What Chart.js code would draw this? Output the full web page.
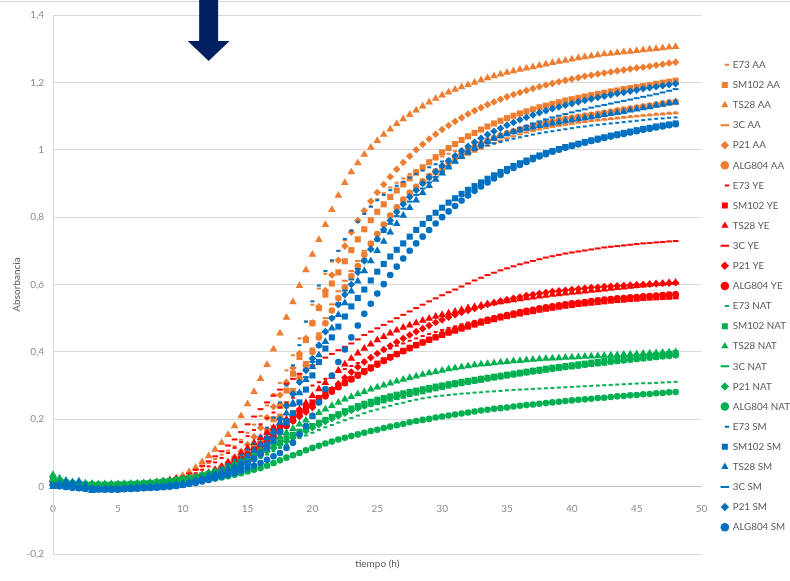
<!DOCTYPE html>
<html>
<head>
<meta charset="utf-8">
<script src="https://cdn.jsdelivr.net/npm/chart.js@4.4.1/dist/chart.umd.min.js"></script>
<style>
  html, body { margin: 0; padding: 0; background: #fff; }
  #wrap { width: 790px; height: 581px; }
</style>
</head>
<body>
<div id="wrap"><canvas id="growthChart" width="790" height="581"></canvas></div>
<script>
// sampling times (h)
var hours = [0,0.5,1,1.5,2,2.5,3,3.5,4,4.5,5,5.5,6,6.5,7,7.5,8,8.5,9,9.5,
  10,10.5,11,11.5,12,12.5,13,13.5,14,14.5,15,15.5,16,16.5,17,17.5,18,18.5,19,19.5,
  20,20.5,21,21.5,22,22.5,23,23.5,24,24.5,25,25.5,26,26.5,27,27.5,28,28.5,29,29.5,
  30,30.5,31,31.5,32,32.5,33,33.5,34,34.5,35,35.5,36,36.5,37,37.5,38,38.5,39,39.5,
  40,40.5,41,41.5,42,42.5,43,43.5,44,44.5,45,45.5,46,46.5,47,47.5,48];

var yTicks = [-0.2, 0, 0.2, 0.4, 0.6, 0.8, 1, 1.2, 1.4];
var arrowHour = 12;

// AA
var e73AA = [.008,.006,.005,.004,.004,.003,.003,.003,.003,.004,.004,.005,.006,.007,.008,.010,.012,.015,.019,.024,
  .030,.039,.049,.059,.070,.082,.095,.107,.120,.139,.160,.184,.210,.241,.275,.308,.345,.390,.440,.490,
  .540,.588,.632,.668,.700,.731,.760,.786,.810,.832,.853,.871,.888,.902,.915,.928,.940,.951,.962,.971,
  .980,.988,.996,1.003,1.010,1.017,1.023,1.029,1.035,1.040,1.045,1.049,1.053,1.057,1.061,1.065,1.068,1.071,1.074,1.077,
  1.080,1.083,1.085,1.088,1.090,1.092,1.094,1.096,1.098,1.100,1.101,1.103,1.105,1.107,1.108,1.110,1.111];
var sm102AA = [.004,.003,.003,.002,.002,.002,.002,.002,.002,.003,.003,.003,.004,.004,.005,.006,.007,.009,.011,.014,
  .017,.021,.025,.030,.036,.043,.051,.060,.071,.084,.099,.117,.139,.165,.200,.240,.285,.335,.385,.435,
  .485,.530,.570,.603,.636,.669,.702,.734,.764,.791,.816,.838,.860,.879,.897,.915,.932,.948,.963,.978,
  .992,1.005,1.017,1.029,1.040,1.050,1.060,1.069,1.078,1.086,1.094,1.101,1.108,1.114,1.120,1.126,1.131,1.136,1.141,1.146,
  1.150,1.154,1.158,1.162,1.166,1.169,1.173,1.176,1.180,1.183,1.186,1.189,1.192,1.196,1.199,1.202,1.205];
var ts28AA = [.010,.008,.006,.005,.004,.004,.003,.003,.004,.004,.005,.005,.006,.007,.008,.010,.012,.015,.019,.025,
  .033,.044,.057,.073,.091,.110,.130,.154,.180,.210,.245,.282,.320,.362,.408,.455,.502,.548,.596,.643,
  .689,.733,.777,.822,.864,.902,.934,.961,.986,1.007,1.027,1.045,1.061,1.077,1.091,1.104,1.117,1.129,1.141,1.152,
  1.162,1.171,1.179,1.186,1.193,1.200,1.207,1.213,1.219,1.224,1.229,1.234,1.238,1.242,1.246,1.250,1.254,1.258,1.262,1.265,
  1.269,1.272,1.275,1.278,1.281,1.284,1.286,1.288,1.290,1.292,1.294,1.296,1.298,1.300,1.302,1.304,1.306];
var c3AA = [.006,.005,.004,.003,.003,.002,.002,.002,.002,.003,.003,.003,.004,.004,.005,.006,.007,.009,.011,.013,
  .016,.019,.023,.027,.032,.038,.044,.051,.060,.071,.085,.101,.120,.148,.180,.214,.250,.290,.330,.370,
  .410,.455,.500,.541,.580,.611,.640,.670,.700,.727,.752,.777,.800,.822,.843,.862,.880,.897,.912,.927,
  .940,.952,.964,.975,.985,.994,1.003,1.012,1.020,1.027,1.034,1.040,1.046,1.051,1.056,1.060,1.064,1.068,1.071,1.074,
  1.077,1.080,1.082,1.085,1.087,1.089,1.091,1.093,1.095,1.097,1.099,1.101,1.102,1.104,1.105,1.107,1.108];
var p21AA = [.006,.005,.004,.004,.003,.003,.003,.003,.003,.004,.004,.005,.005,.006,.006,.007,.009,.011,.013,.016,
  .019,.023,.028,.034,.041,.050,.060,.072,.087,.104,.125,.148,.175,.205,.237,.272,.310,.352,.395,.440,
  .486,.534,.582,.628,.672,.714,.755,.790,.819,.847,.873,.897,.920,.942,.962,.981,1.000,1.016,1.032,1.046,
  1.060,1.072,1.084,1.095,1.106,1.116,1.125,1.134,1.142,1.150,1.157,1.164,1.170,1.176,1.182,1.187,1.192,1.197,1.202,1.206,
  1.210,1.214,1.218,1.221,1.225,1.228,1.231,1.234,1.237,1.240,1.243,1.245,1.248,1.251,1.254,1.257,1.260];
var alg804AA = [.005,.004,.003,.003,.002,.002,.002,.002,.002,.002,.003,.003,.003,.004,.004,.005,.006,.007,.009,.011,
  .012,.015,.018,.022,.027,.033,.040,.048,.057,.068,.080,.094,.112,.138,.170,.204,.240,.279,.320,.360,
  .400,.443,.485,.523,.560,.592,.625,.655,.688,.720,.750,.778,.805,.829,.852,.872,.890,.906,.922,.936,
  .950,.963,.976,.987,.998,1.008,1.018,1.027,1.035,1.042,1.049,1.055,1.061,1.066,1.071,1.076,1.080,1.084,1.088,1.092,
  1.095,1.098,1.101,1.104,1.107,1.110,1.113,1.116,1.119,1.122,1.125,1.128,1.131,1.134,1.137,1.140,1.142];

// YE
var e73YE = [.015,.012,.009,.007,.006,.005,.004,.004,.004,.004,.005,.005,.006,.007,.008,.009,.011,.014,.017,.021,
  .025,.032,.040,.050,.060,.072,.085,.100,.115,.132,.150,.168,.185,.203,.220,.235,.250,.264,.277,.289,
  .300,.310,.320,.330,.340,.349,.358,.367,.375,.384,.393,.402,.410,.418,.425,.433,.440,.447,.453,.459,
  .465,.471,.476,.482,.487,.492,.496,.501,.505,.509,.513,.517,.520,.524,.527,.530,.533,.536,.539,.542,
  .545,.548,.550,.553,.555,.557,.559,.561,.563,.565,.567,.569,.570,.572,.573,.575,.576];
var sm102YE = [.012,.010,.008,.006,.005,.004,.004,.003,.003,.003,.004,.004,.005,.006,.007,.008,.010,.012,.015,.018,
  .020,.024,.028,.032,.037,.043,.050,.059,.070,.082,.095,.110,.125,.142,.160,.178,.195,.210,.225,.238,
  .250,.263,.275,.287,.298,.309,.320,.332,.343,.354,.365,.375,.385,.394,.403,.412,.420,.428,.436,.443,
  .450,.457,.463,.469,.475,.481,.487,.492,.497,.502,.506,.510,.514,.518,.521,.525,.528,.531,.534,.537,
  .539,.542,.544,.546,.548,.550,.552,.554,.555,.557,.558,.560,.561,.562,.563,.564,.565];
var ts28YE = [.020,.016,.012,.009,.007,.006,.005,.005,.005,.005,.005,.006,.007,.008,.009,.011,.013,.016,.020,.024,
  .022,.026,.030,.035,.041,.050,.060,.072,.085,.100,.115,.130,.145,.160,.175,.188,.200,.214,.230,.248,
  .270,.290,.308,.327,.345,.363,.380,.396,.410,.423,.435,.445,.455,.464,.472,.479,.486,.493,.499,.505,
  .510,.515,.520,.525,.530,.534,.538,.542,.545,.548,.551,.554,.557,.560,.562,.565,.567,.570,.572,.574,
  .576,.578,.580,.582,.584,.586,.588,.590,.592,.594,.596,.598,.600,.602,.603,.605,.606];
var c3YE = [.015,.012,.009,.007,.006,.005,.004,.004,.004,.005,.005,.006,.007,.008,.010,.012,.014,.017,.021,.025,
  .030,.039,.050,.062,.075,.090,.105,.122,.140,.162,.185,.208,.230,.250,.270,.288,.305,.320,.335,.348,
  .360,.372,.383,.394,.405,.415,.425,.437,.450,.460,.470,.480,.490,.500,.510,.520,.530,.540,.550,.559,
  .568,.577,.585,.594,.603,.612,.620,.628,.635,.642,.648,.654,.660,.665,.670,.675,.680,.684,.688,.692,
  .695,.698,.701,.704,.707,.710,.712,.714,.716,.718,.720,.722,.723,.725,.726,.728,.729];
var p21YE = [.014,.011,.009,.007,.006,.005,.004,.004,.004,.004,.005,.005,.006,.007,.008,.009,.011,.013,.016,.019,
  .022,.025,.028,.031,.035,.041,.048,.058,.070,.082,.095,.107,.120,.135,.150,.165,.180,.194,.208,.221,
  .235,.252,.270,.288,.305,.323,.340,.355,.370,.383,.395,.407,.418,.429,.440,.450,.460,.469,.478,.487,
  .495,.503,.510,.517,.523,.529,.535,.541,.546,.551,.555,.559,.563,.567,.570,.573,.576,.579,.581,.583,
  .585,.587,.589,.591,.592,.594,.595,.596,.597,.598,.599,.600,.601,.602,.603,.604,.605];
var alg804YE = [.018,.014,.010,.008,.006,.005,.004,.004,.004,.004,.004,.005,.005,.006,.007,.008,.010,.012,.014,.017,
  .020,.023,.026,.030,.034,.040,.046,.053,.060,.070,.080,.095,.110,.127,.145,.163,.180,.196,.211,.226,
  .240,.254,.268,.282,.295,.307,.318,.329,.340,.351,.362,.373,.383,.393,.402,.411,.420,.428,.436,.444,
  .452,.459,.465,.472,.478,.484,.489,.495,.500,.505,.509,.514,.518,.522,.525,.529,.532,.535,.538,.541,
  .544,.546,.548,.551,.553,.555,.557,.559,.560,.562,.563,.565,.566,.567,.569,.570,.571];

// NAT
var e73NAT = [.020,.015,.011,.008,.006,.005,.005,.005,.005,.005,.006,.006,.007,.008,.009,.010,.012,.014,.016,.018,
  .020,.022,.025,.028,.032,.036,.041,.046,.052,.059,.067,.076,.085,.095,.105,.115,.125,.135,.144,.152,
  .160,.168,.176,.183,.190,.197,.204,.211,.218,.224,.229,.235,.240,.245,.249,.254,.258,.262,.265,.268,
  .270,.272,.274,.276,.277,.279,.280,.282,.283,.284,.286,.287,.288,.289,.290,.291,.292,.293,.294,.295,
  .296,.297,.298,.299,.300,.301,.302,.303,.304,.305,.306,.307,.307,.308,.309,.310,.311];
var sm102NAT = [.025,.018,.013,.010,.008,.007,.006,.006,.006,.006,.007,.007,.008,.009,.010,.011,.013,.015,.017,.019,
  .022,.025,.029,.033,.038,.044,.050,.057,.064,.072,.080,.090,.100,.110,.120,.130,.140,.150,.160,.170,
  .180,.189,.198,.207,.215,.224,.232,.239,.246,.252,.258,.263,.268,.273,.277,.281,.285,.289,.293,.297,
  .300,.304,.307,.311,.314,.317,.320,.323,.326,.329,.332,.335,.338,.341,.344,.347,.350,.353,.355,.358,
  .360,.363,.365,.368,.370,.373,.375,.378,.380,.382,.384,.386,.388,.390,.392,.394,.396];
var ts28NAT = [.035,.025,.018,.014,.012,.010,.009,.008,.008,.008,.008,.009,.009,.010,.011,.012,.014,.016,.018,.020,
  .023,.026,.030,.034,.039,.045,.051,.058,.068,.078,.090,.100,.110,.122,.135,.148,.160,.172,.185,.197,
  .208,.219,.230,.240,.250,.259,.267,.275,.282,.289,.295,.301,.307,.313,.318,.323,.328,.333,.337,.341,
  .345,.349,.352,.355,.358,.361,.363,.365,.367,.369,.371,.373,.374,.376,.377,.379,.380,.381,.382,.383,
  .384,.385,.386,.387,.388,.389,.390,.391,.392,.393,.394,.395,.396,.397,.398,.399,.400];
var c3NAT = [.022,.016,.012,.009,.007,.006,.006,.005,.005,.006,.006,.007,.007,.008,.009,.010,.012,.014,.016,.018,
  .021,.024,.028,.032,.037,.043,.049,.057,.065,.075,.085,.095,.105,.116,.127,.138,.150,.160,.169,.177,
  .185,.192,.199,.206,.213,.219,.224,.230,.235,.240,.245,.250,.255,.260,.264,.269,.273,.277,.282,.286,
  .290,.294,.298,.301,.305,.308,.311,.315,.318,.321,.324,.327,.330,.333,.336,.338,.341,.344,.346,.349,
  .351,.353,.356,.358,.360,.362,.365,.367,.369,.371,.373,.375,.377,.379,.381,.383,.385];
var p21NAT = [.028,.020,.015,.011,.009,.007,.006,.006,.006,.006,.006,.007,.008,.008,.009,.011,.012,.014,.016,.018,
  .020,.023,.026,.030,.034,.039,.045,.051,.058,.066,.074,.084,.095,.105,.115,.125,.135,.145,.155,.165,
  .175,.184,.193,.202,.210,.218,.226,.233,.240,.246,.252,.258,.263,.268,.273,.278,.282,.286,.290,.294,
  .298,.302,.305,.309,.312,.315,.319,.322,.325,.328,.331,.334,.337,.340,.343,.345,.348,.350,.353,.355,
  .358,.360,.362,.365,.367,.369,.371,.373,.375,.377,.379,.381,.383,.385,.387,.388,.390];
var alg804NAT = [.015,.011,.008,.006,.005,.004,.004,.004,.004,.004,.004,.005,.005,.006,.006,.007,.008,.009,.010,.012,
  .013,.015,.017,.019,.021,.024,.027,.031,.035,.040,.045,.050,.055,.062,.070,.078,.086,.093,.100,.108,
  .115,.121,.128,.134,.140,.145,.150,.155,.160,.165,.169,.174,.178,.182,.186,.191,.195,.198,.201,.205,
  .208,.211,.214,.217,.220,.223,.226,.228,.231,.233,.235,.238,.240,.242,.244,.246,.248,.250,.252,.254,
  .256,.258,.259,.261,.263,.264,.266,.268,.269,.271,.272,.274,.275,.277,.278,.280,.281];

// SM
var e73SM = [.005,.003,.001,0,-.002,-.003,-.004,-.005,-.005,-.005,-.005,-.004,-.003,-.002,-.001,0,.001,.003,.005,.007,
  .010,.014,.020,.027,.035,.044,.055,.067,.080,.094,.110,.128,.150,.175,.205,.250,.300,.360,.420,.490,
  .550,.597,.640,.672,.700,.735,.760,.786,.810,.831,.850,.866,.880,.893,.905,.917,.928,.938,.948,.957,
  .965,.973,.980,.987,.994,1.001,1.007,1.013,1.018,1.023,1.028,1.033,1.037,1.041,1.045,1.049,1.052,1.055,1.058,1.061,
  1.064,1.067,1.069,1.072,1.074,1.076,1.078,1.080,1.082,1.084,1.086,1.088,1.090,1.092,1.093,1.095,1.096];
var sm102SM = [.004,.002,0,-.002,-.004,-.006,-.007,-.008,-.008,-.008,-.008,-.007,-.006,-.005,-.004,-.003,-.002,-.001,.001,.003,
  .005,.010,.015,.020,.025,.031,.037,.043,.050,.059,.070,.084,.100,.118,.140,.163,.190,.218,.250,.288,
  .330,.370,.410,.443,.475,.505,.535,.560,.585,.612,.638,.661,.683,.703,.722,.742,.762,.780,.797,.813,
  .828,.843,.856,.869,.881,.892,.903,.914,.924,.934,.943,.952,.960,.968,.976,.983,.990,.996,1.002,1.008,
  1.013,1.018,1.023,1.028,1.033,1.037,1.042,1.046,1.050,1.054,1.058,1.062,1.065,1.069,1.072,1.075,1.078];
var ts28SM = [0,.010,.016,.012,.016,.005,-.012,-.010,-.009,-.008,-.007,-.006,-.005,-.004,-.003,-.002,-.001,.001,.003,.006,
  .010,.014,.019,.025,.031,.037,.044,.052,.060,.074,.090,.107,.125,.145,.165,.190,.218,.248,.278,.317,
  .356,.391,.430,.470,.510,.545,.580,.610,.640,.670,.700,.728,.755,.780,.805,.828,.850,.872,.893,.912,
  .930,.948,.965,.980,.995,1.006,1.017,1.026,1.034,1.041,1.047,1.053,1.058,1.063,1.067,1.071,1.075,1.079,1.082,1.085,
  1.088,1.091,1.094,1.097,1.100,1.104,1.107,1.110,1.113,1.117,1.120,1.124,1.127,1.131,1.134,1.138,1.141];
var c3SM = [.003,.002,.001,0,-.001,-.002,-.003,-.004,-.004,-.004,-.004,-.003,-.002,-.001,0,.001,.002,.003,.005,.007,
  .009,.012,.015,.019,.023,.028,.034,.041,.049,.058,.068,.078,.090,.108,.130,.162,.200,.240,.280,.325,
  .370,.415,.460,.503,.545,.582,.615,.646,.675,.703,.730,.756,.780,.803,.825,.846,.866,.885,.903,.919,
  .935,.949,.963,.976,.988,.999,1.010,1.020,1.030,1.039,1.048,1.056,1.064,1.071,1.078,1.084,1.090,1.096,1.101,1.106,
  1.111,1.116,1.120,1.125,1.129,1.133,1.137,1.141,1.145,1.149,1.153,1.157,1.161,1.165,1.170,1.175,1.180];
var p21SM = [.004,.002,0,-.002,-.003,-.004,-.005,-.006,-.006,-.006,-.005,-.004,-.003,-.002,-.001,0,.001,.002,.004,.006,
  .008,.011,.014,.018,.022,.027,.033,.040,.048,.057,.067,.080,.100,.127,.160,.200,.240,.275,.310,.345,
  .380,.420,.460,.500,.540,.570,.600,.636,.670,.705,.735,.763,.790,.815,.838,.860,.880,.900,.918,.935,
  .952,.967,.982,.996,1.010,1.022,1.034,1.045,1.055,1.064,1.073,1.081,1.089,1.096,1.103,1.110,1.116,1.122,1.127,1.132,
  1.137,1.142,1.146,1.151,1.155,1.159,1.163,1.167,1.170,1.174,1.177,1.181,1.184,1.187,1.190,1.193,1.196];
var alg804SM = [.003,.001,-.001,-.003,-.005,-.006,-.007,-.008,-.009,-.009,-.009,-.008,-.007,-.006,-.005,-.004,-.003,-.002,0,.002,
  .005,.008,.011,.015,.020,.025,.030,.035,.040,.047,.055,.062,.070,.080,.090,.100,.115,.130,.155,.180,
  .210,.250,.290,.330,.370,.407,.443,.478,.513,.543,.573,.601,.628,.653,.677,.700,.722,.742,.762,.781,
  .800,.817,.833,.849,.864,.878,.891,.903,.915,.926,.937,.946,.955,.964,.972,.980,.987,.994,1.000,1.006,
  1.011,1.016,1.021,1.026,1.030,1.035,1.039,1.043,1.047,1.051,1.055,1.059,1.062,1.066,1.069,1.073,1.076];

var series = [
  ['E73 AA', e73AA], ['SM102 AA', sm102AA], ['TS28 AA', ts28AA], ['3C AA', c3AA], ['P21 AA', p21AA], ['ALG804 AA', alg804AA],
  ['E73 YE', e73YE], ['SM102 YE', sm102YE], ['TS28 YE', ts28YE], ['3C YE', c3YE], ['P21 YE', p21YE], ['ALG804 YE', alg804YE],
  ['E73 NAT', e73NAT], ['SM102 NAT', sm102NAT], ['TS28 NAT', ts28NAT], ['3C NAT', c3NAT], ['P21 NAT', p21NAT], ['ALG804 NAT', alg804NAT],
  ['E73 SM', e73SM], ['SM102 SM', sm102SM], ['TS28 SM', ts28SM], ['3C SM', c3SM], ['P21 SM', p21SM], ['ALG804 SM', alg804SM]
];

var groupColors = { AA: '#ED7D31', YE: '#FF0000', NAT: '#00B050', SM: '#0070C0' };
var markers = {
  E73:    { style: 'line',     radius: 2,   width: 2 },
  SM102:  { style: 'rect',     radius: 4.3, width: 0 },
  TS28:   { style: 'triangle', radius: 4.5, width: 0 },
  '3C':   { style: 'line',     radius: 2.9, width: 2 },
  P21:    { style: 'rectRot',  radius: 3.8, width: 0 },
  ALG804: { style: 'circle',   radius: 3.3, width: 0 }
};

function toPoints(values) {
  return hours.map(function (h, i) { return { x: h, y: values[i] }; });
}

var datasets = series.map(function (s, i) {
  var parts = s[0].split(' ');
  var m = markers[parts[0]];
  var color = groupColors[parts[1]];
  return {
    label: s[0],
    data: toPoints(s[1]),
    order: series.length - 1 - i,
    showLine: false,
    clip: false,
    pointStyle: m.style,
    pointRadius: m.radius,
    pointBorderWidth: m.width,
    pointBackgroundColor: color,
    pointBorderColor: color,
    backgroundColor: color,
    borderColor: color
  };
});

// arrow above the plot + thin frame line at the top
var arrowPlugin = {
  id: 'arrowMark',
  afterDraw: function (chart) {
    var ctx = chart.ctx;
    var x = chart.scales.x.getPixelForValue(arrowHour);
    ctx.save();
    ctx.strokeStyle = '#d9d9d9';
    ctx.lineWidth = 1;
    ctx.beginPath();
    ctx.moveTo(0, 1.5);
    ctx.lineTo(chart.width, 1.5);
    ctx.stroke();
    ctx.fillStyle = '#002060';
    ctx.beginPath();
    ctx.moveTo(x - 9.5, 0);
    ctx.lineTo(x + 9.5, 0);
    ctx.lineTo(x + 9.5, 41);
    ctx.lineTo(x + 21, 41);
    ctx.lineTo(x, 61);
    ctx.lineTo(x - 21, 41);
    ctx.lineTo(x - 9.5, 41);
    ctx.closePath();
    ctx.fill();
    ctx.restore();
  }
};

// the legend sits a bit further right than chart.js puts it
var legendNudge = {
  id: 'legendNudge',
  afterLayout: function (chart) {
    var lg = chart.legend;
    lg.left += 10; lg.right += 10;
    lg.top += 2; lg.bottom += 2;
  }
};

Chart.defaults.font.family = 'Lato';
Chart.defaults.font.size = 10;
Chart.defaults.color = '#8c8c8c';

var ctx = document.getElementById('growthChart').getContext('2d');
var growthChart = new Chart(ctx, {
  type: 'scatter',
  data: { datasets: datasets },
  plugins: [arrowPlugin, legendNudge],
  options: {
    responsive: false,
    animation: false,
    devicePixelRatio: 1,
    events: [],
    layout: { padding: { left: 5, right: 0, top: 14, bottom: 7 } },
    plugins: {
      tooltip: { enabled: false },
      legend: {
        position: 'right',
        reverse: true,
        labels: {
          usePointStyle: true,
          boxWidth: 6,
          boxHeight: 6,
          padding: 10.3,
          color: '#595959',
          font: { size: 9.8 },
          generateLabels: function (chart) {
            var items = Chart.defaults.plugins.legend.labels.generateLabels(chart);
            items.forEach(function (it) {
              if (it.text.indexOf('E73') === 0) it.pointStyle = 'dash';
            });
            return items;
          }
        }
      }
    },
    scales: {
      x: {
        type: 'linear',
        position: { y: 0 },
        min: 0,
        max: 50,
        grid: { display: false },
        border: { display: true, color: '#bfbfbf' },
        ticks: { stepSize: 5, padding: 8, maxRotation: 0 }
      },
      x2: {
        type: 'linear',
        axis: 'x',
        position: 'bottom',
        min: 0,
        max: 50,
        afterFit: function (scale) { scale.height = 20; },
        grid: { display: false },
        border: { display: false },
        ticks: { display: false },
        title: { display: true, text: 'tiempo (h)', color: '#595959', padding: { top: 4, bottom: 4 } }
      },
      y: {
        min: yTicks[0],
        max: yTicks[yTicks.length - 1],
        afterFit: function (scale) { scale.width = 48; },
        afterBuildTicks: function (scale) {
          scale.ticks = yTicks.map(function (v) { return { value: v }; });
        },
        grid: { color: '#d9d9d9', drawTicks: false },
        border: { display: true, color: '#d9d9d9' },
        ticks: {
          padding: 9,
          callback: function (v) {
            return String(Math.round(v * 10) / 10).replace('.', ',');
          }
        },
        title: { display: true, text: 'Absorbancia', color: '#595959', padding: { top: 6, bottom: 0 } }
      }
    }
  }
});
</script>
</body>
</html>
